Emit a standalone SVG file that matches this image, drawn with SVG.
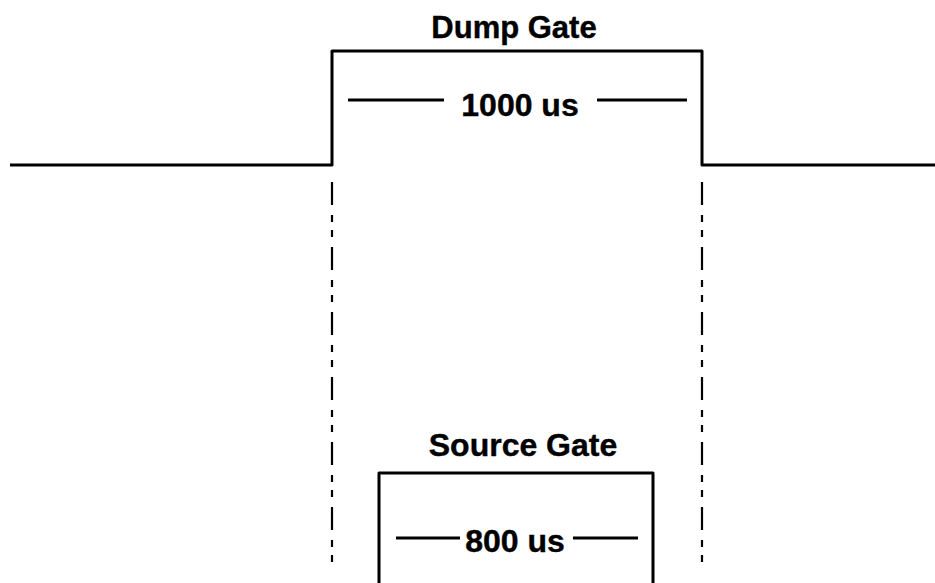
<svg xmlns="http://www.w3.org/2000/svg" width="935" height="583" viewBox="0 0 935 583">
<style>
.w{fill:none;stroke:#000;stroke-width:3;stroke-linejoin:round}
.d{fill:none;stroke:#000;stroke-width:2.2;stroke-dasharray:23 10 7 8 7 10}
.t{font-family:"Liberation Sans",Arial,sans-serif;font-weight:bold;fill:#000;text-anchor:middle;stroke:#000;stroke-width:0.4}
</style>
<rect width="935" height="583" fill="#fff"/>
<g id="dump-gate">
<path class="w" d="M10 165 H332 V51 H702 V165 H935"/>
<text class="t" x="514" y="38" font-size="31">Dump Gate</text>
<text class="t" x="520" y="116" font-size="32">1000 us</text>
<line class="w" x1="348" y1="100" x2="444" y2="100"/>
<line class="w" x1="597" y1="100" x2="687" y2="100"/>
</g>
<g id="source-gate">
<path class="w" d="M379 590 V473 H653 V590"/>
<text class="t" x="523" y="456" font-size="32">Source Gate</text>
<text class="t" x="515" y="552" font-size="32">800 us</text>
<line class="w" x1="396" y1="538" x2="460" y2="538"/>
<line class="w" x1="573" y1="538" x2="638" y2="538"/>
</g>
<g id="connectors">
<line class="d" x1="332" y1="182" x2="332" y2="563"/>
<line class="d" x1="702" y1="182" x2="702" y2="563"/>
</g>
</svg>
